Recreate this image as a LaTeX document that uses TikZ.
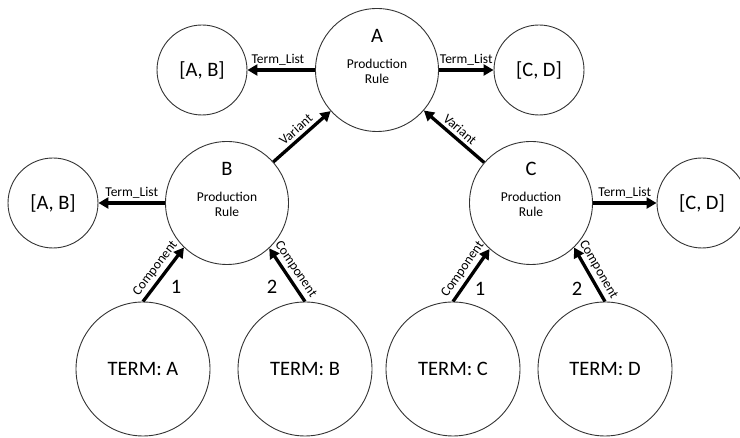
\documentclass[tikz,border=0pt]{standalone}
\usepackage{fontspec}
\setmainfont{Carlito}
\usetikzlibrary{arrows.meta}
\begin{document}
\begin{tikzpicture}[x=1pt,y=1pt,
  ring/.style={circle, draw=black!80, line width=0.9pt, inner sep=0pt, fill=white},
  prodnode/.style={ring, minimum size=123pt},
  listnode/.style={ring, minimum size=90pt, font=\fontsize{20.5}{24}\selectfont},
  termnode/.style={ring, minimum size=134pt, font=\fontsize{20.5}{24}\selectfont},
  bigtxt/.style={font=\fontsize{20.5}{24}\selectfont, inner sep=0pt},
  smalltxt/.style={font=\fontsize{13.5}{16}\selectfont, inner sep=0pt},
  rel/.style={line width=3.3pt, -{Triangle[length=10pt,width=11pt]}},
  lbl/.style={font=\fontsize{13.5}{16}\selectfont, inner sep=3pt},
  num/.style={font=\fontsize{20.5}{24}\selectfont, inner sep=0pt}]
\clip (0,0) rectangle (740,438);
\useasboundingbox (0,0) rectangle (740,438);

% production rules
\node[prodnode] (A) at (377,368) {};
\node[prodnode] (B) at (227,235) {};
\node[prodnode] (C) at (531,235) {};

\foreach \n/\t in {A/A, B/B, C/C}{
  \node[bigtxt] (\n-name) at ([yshift=34pt]\n.center) {\t};
  \node[smalltxt] (\n-prod) at ([yshift=6.5pt]\n.center) {Production};
  \node[smalltxt] (\n-rule) at ([yshift=-9pt]\n.center) {Rule};
}

% term lists
\node[listnode] (AB1) at (202,368) {[A, B]};
\node[listnode] (CD1) at (539,368) {[C, D]};
\node[listnode] (AB2) at (53,235) {[A, B]};
\node[listnode] (CD2) at (702,235) {[C, D]};

% terms
\node[termnode] (TA) at (143,69) {TERM: A};
\node[termnode] (TB) at (305,69) {TERM: B};
\node[termnode] (TC) at (453,69) {TERM: C};
\node[termnode] (TD) at (605,69) {TERM: D};

% term list links
\draw[rel] (A) -- node[lbl, above, pos=0.55] {Term\_List} (AB1);
\draw[rel] (A) -- node[lbl, above] {Term\_List} (CD1);
\draw[rel] (B) -- node[lbl, above] {Term\_List} (AB2);
\draw[rel] (C) -- node[lbl, above] {Term\_List} (CD2);

% variants
\draw[rel] (B) -- node[lbl, sloped, above] {Variant} (A);
\draw[rel] (C) -- node[lbl, sloped, above] {Variant} (A);

% components
\draw[rel] (TA.north) -- node[lbl, sloped, above] {Component} (B.226);
\draw[rel] (TB.north) -- node[lbl, sloped, above] {Component} (B.313);
\draw[rel] (TC.north) -- node[lbl, sloped, above] {Component} (C.228);
\draw[rel] (TD.north) -- node[lbl, sloped, above] {Component} (C.314);

% component order
\node[num] (b1) at (176,151) {1};
\node[num] (b2) at (272,151) {2};
\node[num] (c1) at (480,149) {1};
\node[num] (c2) at (577,149) {2};
\end{tikzpicture}
\end{document}
